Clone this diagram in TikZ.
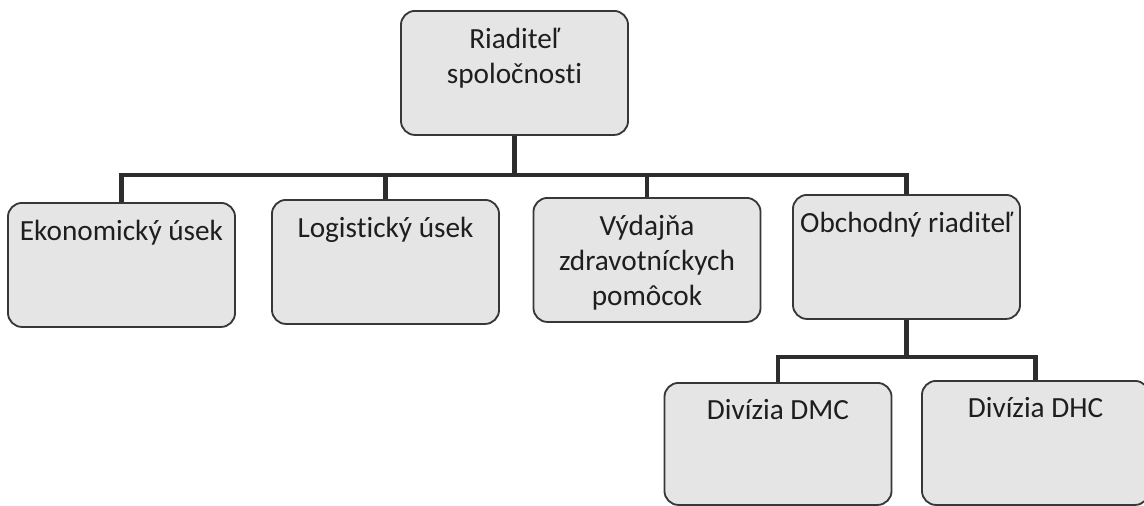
\documentclass[tikz,border=0pt]{standalone}
\usepackage{fontspec}
\setmainfont{Carlito}[Ligatures=NoCommon]
\usepackage{tikz}
\usetikzlibrary{positioning, calc}

\definecolor{KartaFill}{RGB}{229,229,229}
\definecolor{KartaDraw}{RGB}{55,55,55}
\definecolor{SpojGray}{RGB}{45,45,45}
\definecolor{TextGray}{RGB}{30,30,30}

% obsah karty: text zarovnany hore
\newcommand{\obsah}[2][3.1cm]{\parbox[t][\dimexpr#1-24pt\relax][t]{5.5cm}{\centering #2}}

\tikzset{
	karta/.style={draw=KartaDraw, line width=1.3pt, fill=KartaFill, rounded corners=10pt,
		inner xsep=2.5pt, inner ysep=12pt, anchor=north, text=TextGray},
	spoj/.style={draw=SpojGray, line width=3.4pt}
}

\begin{document}
\begin{tikzpicture}[x=0.025cm, y=-0.025cm, font=\fontsize{20.8}{25}\selectfont]
	\useasboundingbox (0,0) rectangle (1144,506);
	% riaditel
	\node[karta] (riad) at (514.5,10) {\obsah{Riaditeľ\\spoločnosti}};
	% useky
	\node[karta] (ekon) at (121.5,202) {\obsah{Ekonomický úsek}};
	\node[karta] (logi) at (385.5,199) {\obsah{Logistický úsek}};
	\node[karta] (vydaj) at (647,197) {\obsah{Výdajňa\\zdravotníckych\\pomôcok}};
	\node[karta] (obch) at (906.5,194) {\obsah{Obchodný riaditeľ}};
	% divizie
	\node[karta] (dmc) at (778,382) {\obsah[3.05cm]{Divízia DMC}};
	\node[karta] (dhc) at (1035.5,380) {\obsah[3.1cm]{Divízia DHC}};
	% spoje
	\coordinate (zbernica) at (514.5,175);
	\coordinate (zbernica2) at (906.5,357);
	\foreach \n in {ekon,logi,vydaj,obch}
		\draw[spoj] (riad.south) -- (zbernica) -| (\n.north);
	\foreach \n in {dmc,dhc}
		\draw[spoj] (obch.south) -- (zbernica2) -| (\n.north);
\end{tikzpicture}
\end{document}
